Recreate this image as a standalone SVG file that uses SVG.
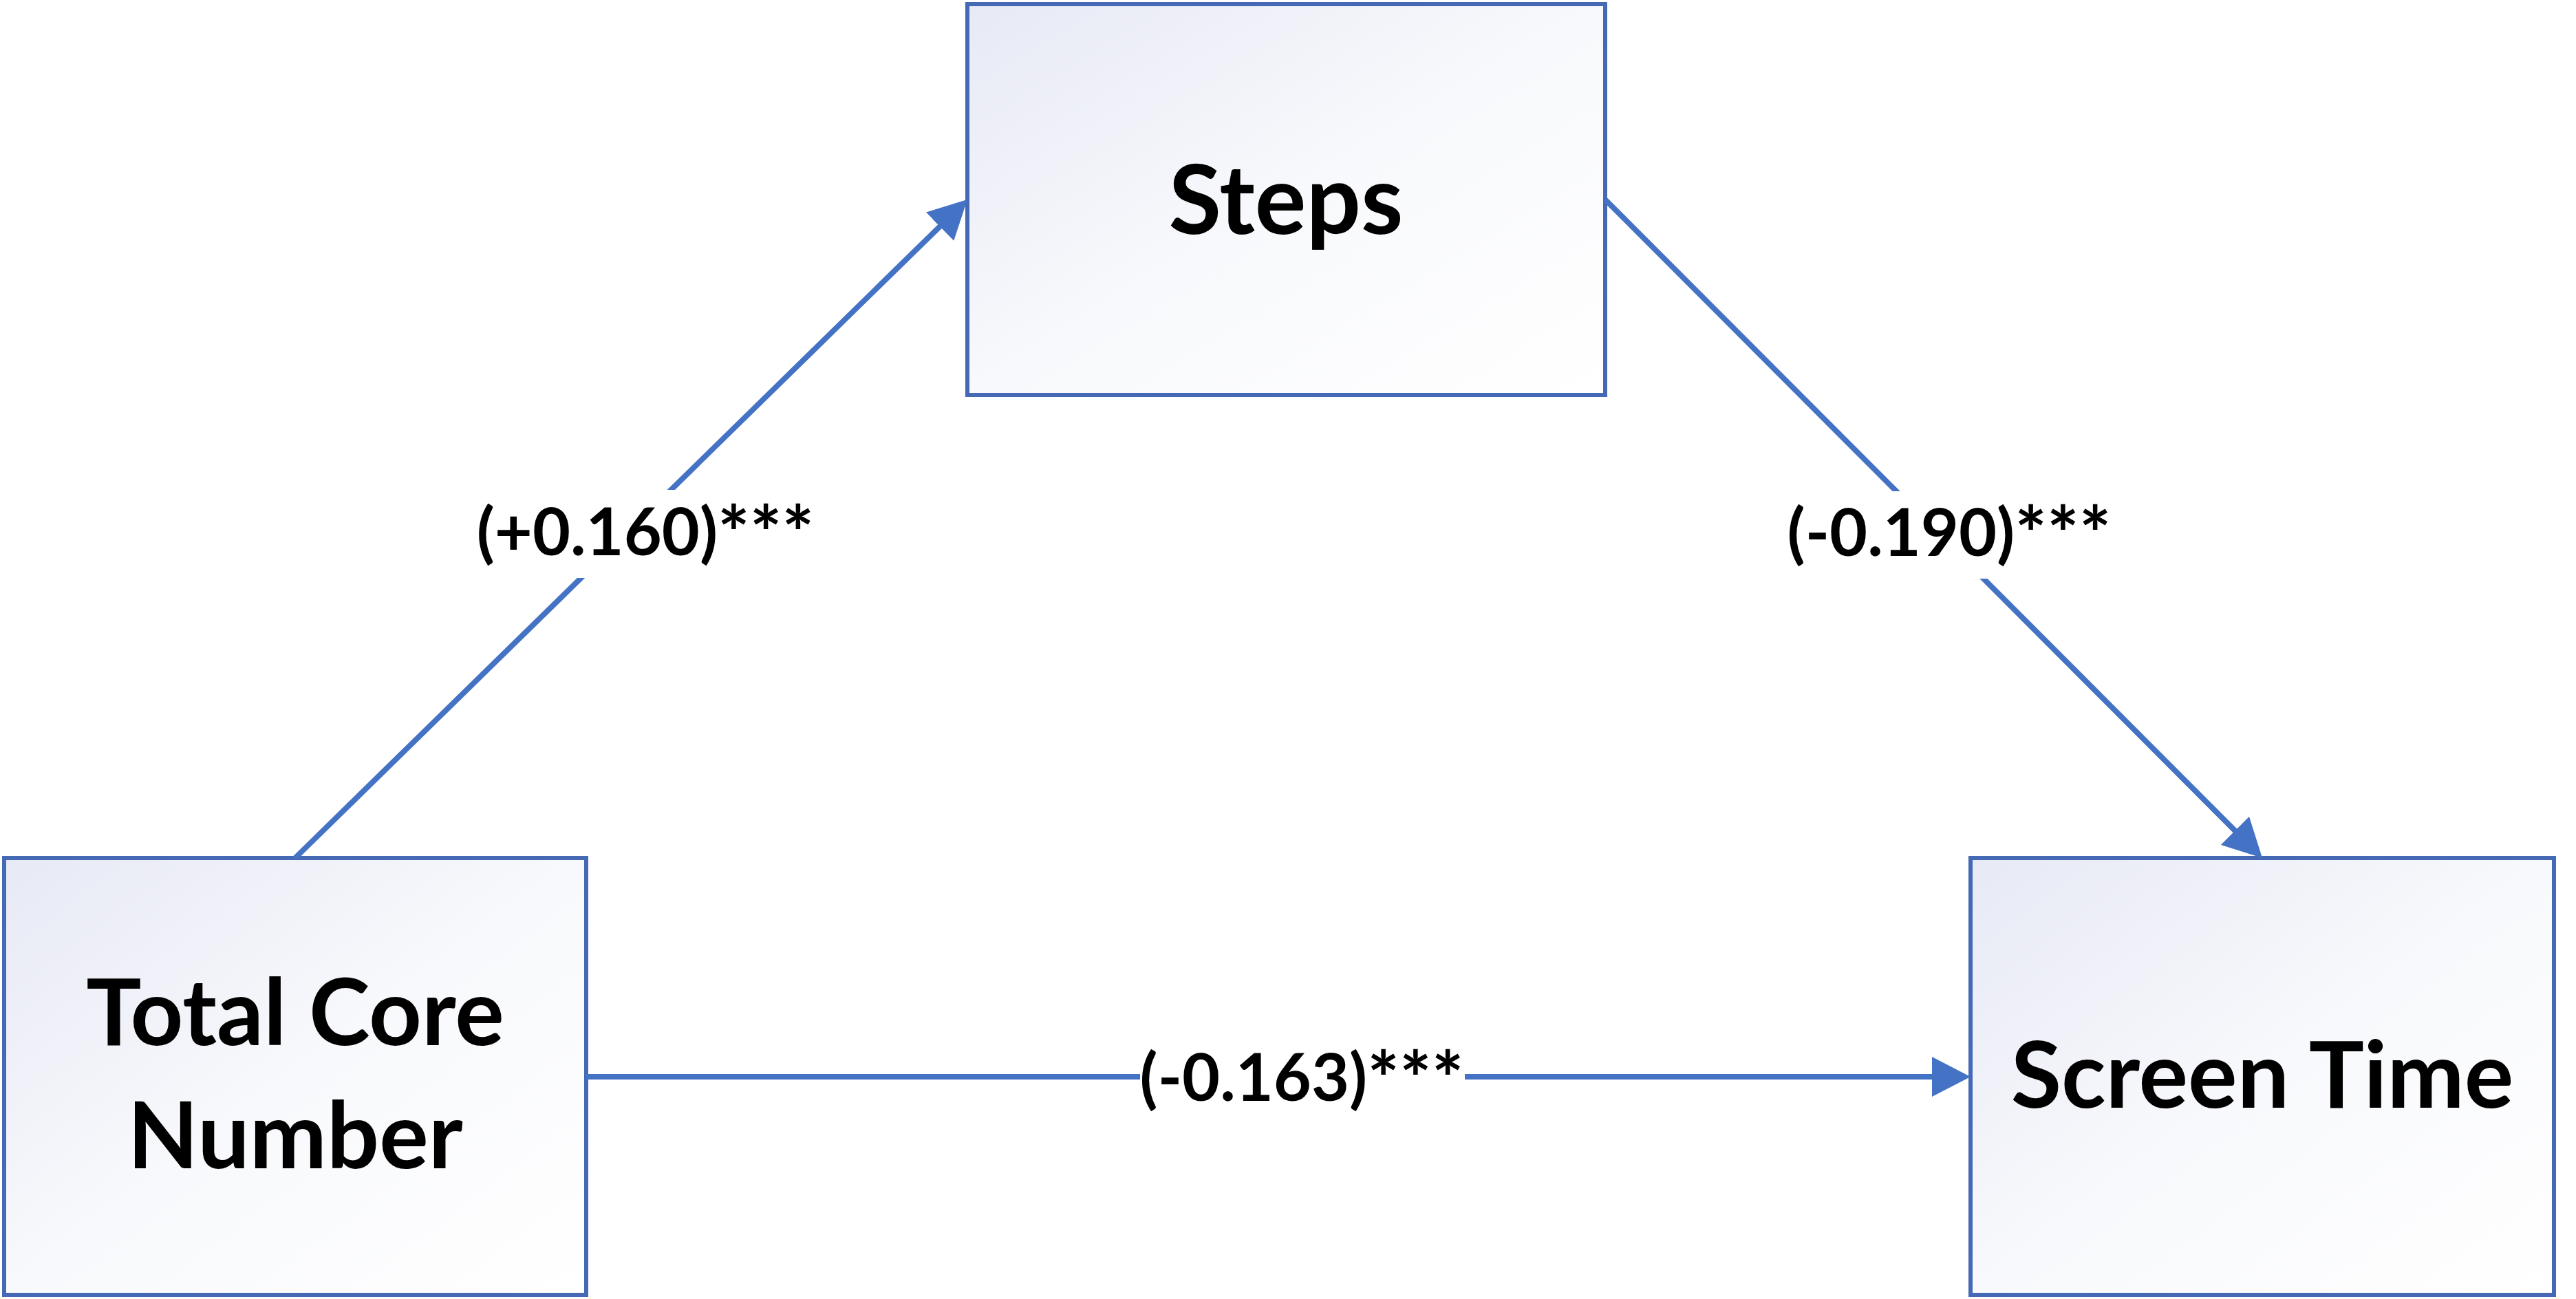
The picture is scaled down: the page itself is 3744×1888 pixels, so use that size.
<svg xmlns="http://www.w3.org/2000/svg" width="3744" height="1888" viewBox="0 0 3744 1888">
  <style>
    .box { stroke: #4569B5; stroke-width: 6; }
    .node-text { font-family: Lato, "Open Sans", "Liberation Sans", sans-serif; font-weight: 700; fill: #000000; text-anchor: middle; }
    .conn { stroke: #4472C4; stroke-width: 8; fill: none; marker-end: url(#arrow); }
    .lbl-bg { fill: #FFFFFF; }
    .lbl { font-family: Lato, "Open Sans", "Liberation Sans", sans-serif; font-weight: 700; font-size: 95px; fill: #000000; text-anchor: middle; }
    .ast { font-size: 110px; }
  </style>
  <defs>
    <linearGradient id="boxfill" x1="0" y1="0" x2="1" y2="1">
      <stop offset="0" stop-color="#E7E9F5"/>
      <stop offset="0.5" stop-color="#F8F9FC"/>
      <stop offset="1" stop-color="#FFFFFF"/>
    </linearGradient>
    <marker id="arrow" markerUnits="userSpaceOnUse" viewBox="0 -29 56 58" refX="2" refY="0" markerWidth="56" markerHeight="58" orient="auto">
      <path d="M0,-29 L56,0 L0,29 Z" fill="#4472C4"/>
    </marker>
  </defs>
  <rect width="3744" height="1888" fill="#FFFFFF"/>

  <g id="node-steps">
    <rect class="box" x="1406" y="6" width="927" height="568" fill="url(#boxfill)"/>
    <text class="node-text" x="1869" y="340" font-size="140">Steps</text>
  </g>
  <g id="node-total-core-number">
    <rect class="box" x="6" y="1247" width="846" height="635" fill="url(#boxfill)"/>
    <text class="node-text" x="429" y="1519" font-size="134">Total Core</text>
    <text class="node-text" x="429" y="1698" font-size="134">Number</text>
  </g>
  <g id="node-screen-time">
    <rect class="box" x="2864" y="1247" width="848" height="635" fill="url(#boxfill)"/>
    <text class="node-text" x="3288" y="1610" font-size="134">Screen Time</text>
  </g>

  <g id="connectors">
    <line class="conn" x1="429" y1="1247" x2="1367.4" y2="327.8"/>
    <line class="conn" x1="2333" y1="290" x2="3249.9" y2="1208.8"/>
    <line class="conn" x1="852" y1="1565" x2="2810" y2="1565"/>
    <g id="label-a">
      <rect class="lbl-bg" x="690" y="712" width="496" height="128"/>
      <text class="lbl" x="938" y="807">(+0.160)<tspan class="ast" dy="8">***</tspan></text>
    </g>
    <g id="label-b">
      <rect class="lbl-bg" x="2596" y="714" width="476" height="127"/>
      <text class="lbl" x="2833" y="808">(-0.190)<tspan class="ast" dy="8">***</tspan></text>
    </g>
    <g id="label-c">
      <rect class="lbl-bg" x="1657" y="1515" width="472" height="100"/>
      <text class="lbl" x="1892" y="1600">(-0.163)<tspan class="ast" dy="8">***</tspan></text>
    </g>
  </g>
</svg>
